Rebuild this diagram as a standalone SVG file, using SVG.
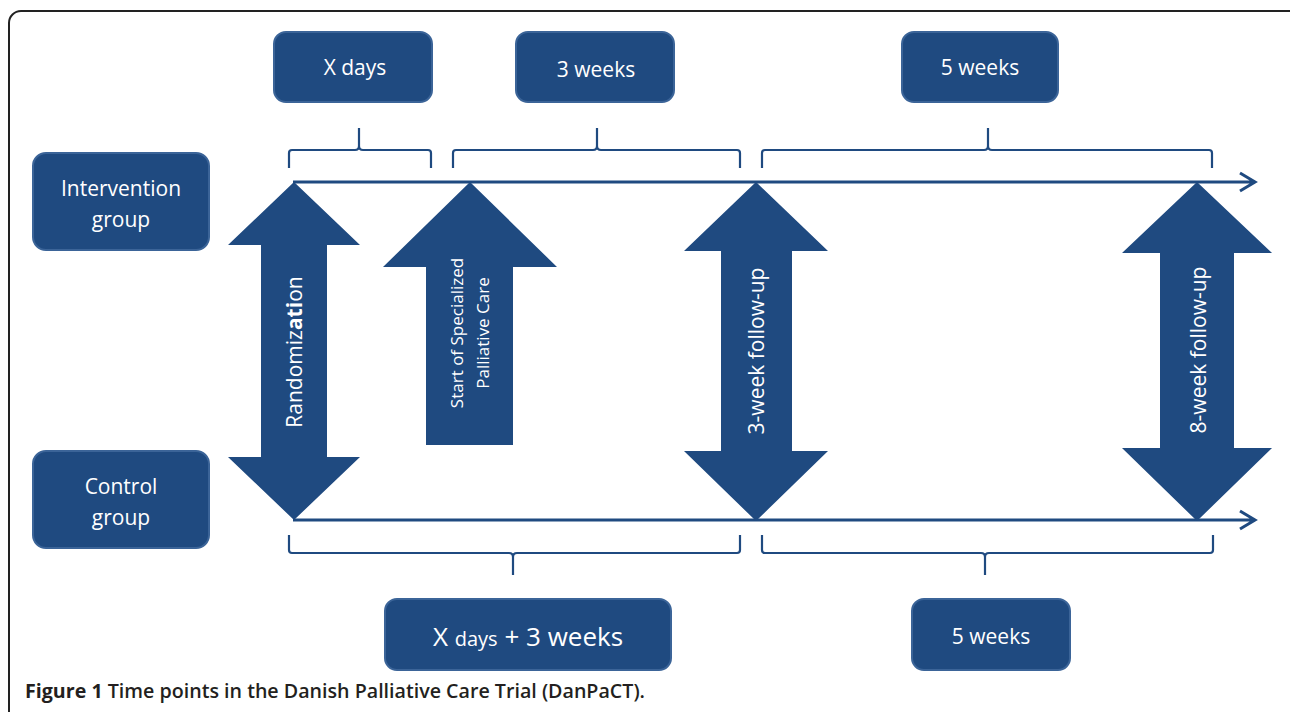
<svg xmlns="http://www.w3.org/2000/svg" width="1290" height="712" viewBox="0 0 1290 712">
<style>
.box{fill:#1f4a80;stroke:#3b6498;stroke-width:2}
.arr{fill:#1f4a80}
.t{font-family:"Open Sans","Liberation Sans",sans-serif;fill:#ffffff;text-anchor:middle}
.line{stroke:#1f4a80;stroke-width:3;fill:none}
.brace{stroke:#1f4a80;stroke-width:2.2;fill:none}
.cap{font-family:"Open Sans","Liberation Sans",sans-serif;fill:#231f20;font-size:19px;font-weight:600}
</style>
<rect x="9" y="11" width="1300" height="760" rx="12" fill="#ffffff" stroke="#222" stroke-width="2"/>
<g id="connectors">
<path class="line" d="M293,182 H1254 M1240,173 L1255,182 L1240,191"/>
<path class="line" d="M293,520 H1254 M1240,511 L1255,520 L1240,529"/>
<path class="brace" d="M289,168 V153 Q289,150 292,150 H355 Q359,150 359,146 V128 M359,146 Q359,150 363,150 H428 Q431,150 431,153 V168"/>
<path class="brace" d="M453,168 V153 Q453,150 456,150 H593 Q597,150 597,146 V128 M597,146 Q597,150 601,150 H737 Q740,150 740,153 V168"/>
<path class="brace" d="M762,168 V153 Q762,150 765,150 H984 Q988,150 988,146 V128 M988,146 Q988,150 992,150 H1209 Q1212,150 1212,153 V168"/>
<path class="brace" d="M289,535 V550 Q289,553 292,553 H509 Q513,553 513,557 V575 M513,557 Q513,553 517,553 H737 Q740,553 740,550 V535"/>
<path class="brace" d="M762,535 V550 Q762,553 765,553 H981 Q985,553 985,557 V575 M985,557 Q985,553 989,553 H1210 Q1213,553 1213,550 V535"/>
</g>
<g id="xdays"><rect class="box" x="274" y="32" width="158" height="70" rx="12"/><text class="t" x="355" y="75" font-size="21">X days</text></g>
<g id="weeks3"><rect class="box" x="516" y="32" width="158" height="70" rx="12"/><text class="t" x="596" y="77" font-size="21">3 weeks</text></g>
<g id="weeks5top"><rect class="box" x="902" y="32" width="156" height="70" rx="12"/><text class="t" x="980" y="75" font-size="21">5 weeks</text></g>
<g id="intervention"><rect class="box" x="33" y="153" width="176" height="97" rx="13"/><text class="t" x="121" y="196" font-size="21">Intervention</text><text class="t" x="121" y="227" font-size="21">group</text></g>
<g id="control"><rect class="box" x="33" y="451" width="176" height="97" rx="13"/><text class="t" x="121" y="494" font-size="21">Control</text><text class="t" x="121" y="525" font-size="21">group</text></g>
<g id="xdays3weeks"><rect class="box" x="385" y="599" width="286" height="71" rx="12"/><text class="t" x="528" y="646" font-size="26">X <tspan font-size="20">days</tspan> + 3 weeks</text></g>
<g id="weeks5bottom"><rect class="box" x="912" y="599" width="158" height="71" rx="12"/><text class="t" x="991" y="644" font-size="21">5 weeks</text></g>
<g id="randomization"><polygon class="arr" points="294,182 360,245 327,245 327,457 360,457 294,520 228,457 261,457 261,245 228,245"/><text class="t" transform="translate(302,352) rotate(-90)" font-size="21">Randomiz<tspan font-weight="bold">ati</tspan>on</text></g>
<g id="startcare"><polygon class="arr" points="470,182 557,267 513,267 513,445 426,445 426,267 383,267"/><text class="t" transform="translate(463,333) rotate(-90)" font-size="17">Start of Specialized</text><text class="t" transform="translate(489,333) rotate(-90)" font-size="17">Palliative Care</text></g>
<g id="followup3"><polygon class="arr" points="756,182 828,251 792,251 792,451 828,451 756,521 684,451 721,451 721,251 684,251"/><text class="t" transform="translate(764,351) rotate(-90)" font-size="21">3-week follow-up</text></g>
<g id="followup8"><polygon class="arr" points="1197,182 1272,253 1234,253 1234,448 1272,448 1197,521 1122,448 1160,448 1160,253 1122,253"/><text class="t" transform="translate(1206,350) rotate(-90)" font-size="21">8-week follow-up</text></g>
<text class="cap" x="25" y="698" textLength="620" lengthAdjust="spacingAndGlyphs"><tspan font-weight="bold">Figure 1</tspan> Time points in the Danish Palliative Care Trial (DanPaCT).</text>
</svg>
